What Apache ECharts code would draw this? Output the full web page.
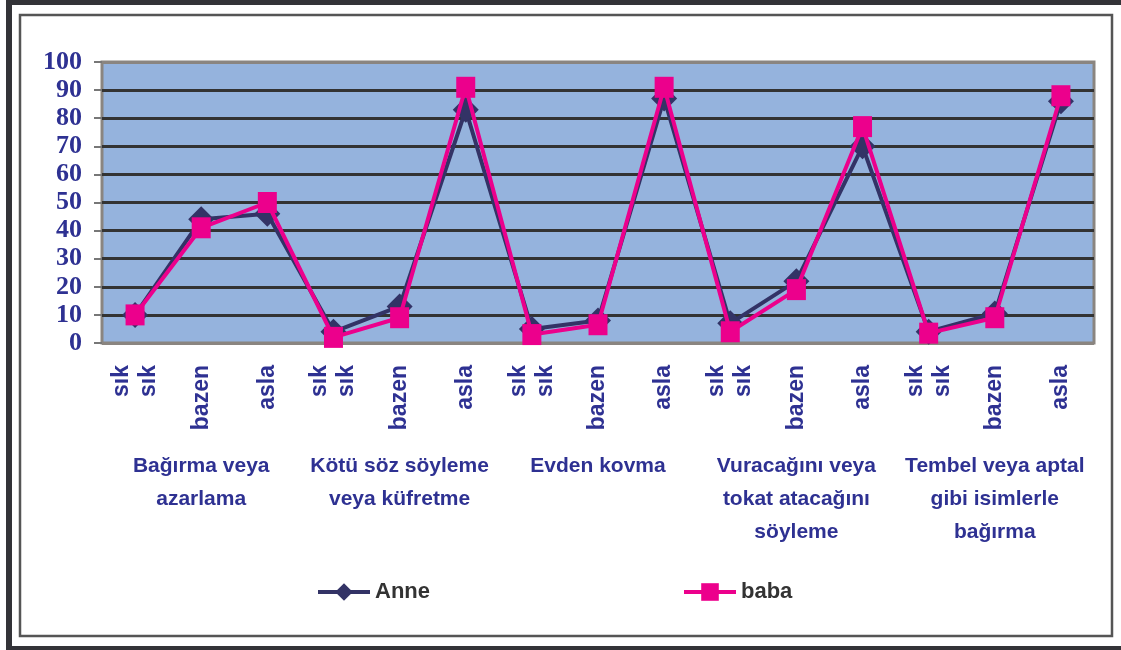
<!DOCTYPE html>
<html>
<head>
<meta charset="utf-8">
<script src="https://cdn.jsdelivr.net/npm/echarts@6/dist/echarts.min.js"></script>
<style>
html,body{margin:0;padding:0;background:#fff;}
#c{width:1121px;height:650px;}
</style>
</head>
<body>
<div id="c"></div>
<script>
const categories = ['sık\nsık','bazen','asla','sık\nsık','bazen','asla','sık\nsık','bazen','asla','sık\nsık','bazen','asla','sık\nsık','bazen','asla'];
const groups = ['Bağırma veya\nazarlama','Kötü söz söyleme\nveya küfretme','Evden kovma','Vuracağını veya\ntokat atacağını\nsöyleme','Tembel veya aptal\ngibi isimlerle\nbağırma'];
const anne = [10,44,46,4,13,83,5,8,87,7,22,70,4,10.5,86];
const baba = [10,41,50,2,9,91,3,6.5,91,4,19,77,3.5,9,88];
const yMin = 0, yMax = 100, yInterval = 10;

const navy = '#2E3192';
const legendText = {fontFamily:'Liberation Sans', fontWeight:'bold', fontSize:22, color:'#333'};
const chart = echarts.init(document.getElementById('c'));
chart.setOption({
  animation: false,
  backgroundColor: '#ffffff',
  graphic: [
    {type:'rect', shape:{x:6,y:0,width:1115,height:5}, style:{fill:'#333338'}, z:0},
    {type:'rect', shape:{x:6,y:0,width:6,height:650}, style:{fill:'#333338'}, z:0},
    {type:'rect', shape:{x:6,y:646,width:1115,height:4}, style:{fill:'#333338'}, z:0},
    {type:'rect', shape:{x:20,y:15,width:1092,height:621}, style:{fill:'none',stroke:'#555',lineWidth:2.5}, z:0}
  ],
  grid: {left:102, right:27, top:62, bottom:307, show:true, backgroundColor:'#95B3DD', borderColor:'#8a8580', borderWidth:3},
  legend: [
    {data:['Anne'], left:311, top:576, itemWidth:52, itemHeight:22, itemGap:0, lineStyle:{width:4}, textStyle:legendText},
    {data:['baba'], left:677, top:576, itemWidth:52, itemHeight:22, itemGap:0, lineStyle:{width:4}, textStyle:legendText}
  ],
  xAxis: [
    {type:'category', data:categories, boundaryGap:true,
     axisLine:{show:false}, axisTick:{show:false},
     axisLabel:{interval:0, rotate:90, margin:22, fontFamily:'Liberation Sans', fontWeight:'bold', fontSize:23, lineHeight:27, color:navy}},
    {type:'category', data:groups, position:'bottom', offset:100, boundaryGap:true,
     axisLine:{show:false}, axisTick:{show:false},
     axisLabel:{interval:0, margin:7, verticalAlign:'top', fontFamily:'Liberation Sans', fontWeight:'bold', fontSize:21, lineHeight:33, color:navy}}
  ],
  yAxis: {type:'value', min:yMin, max:yMax, interval:yInterval,
    axisLine:{show:false},
    axisTick:{show:true, length:8, lineStyle:{color:'#777', width:2}},
    axisLabel:{margin:20, fontFamily:'Liberation Serif', fontWeight:'bold', fontSize:26, color:navy},
    splitLine:{show:true, lineStyle:{width:3, color:['#8a8580','#333','#333','#333','#333','#333','#333','#333','#333','#333','#8a8580']}}
  },
  series: [
    {name:'Anne', type:'line', data:anne, symbol:'diamond', symbolSize:[26,26],
     lineStyle:{color:'#333366', width:4}, itemStyle:{color:'#333366'}, z:2},
    {name:'baba', type:'line', data:baba, symbol:'rect', symbolSize:[19,21],
     lineStyle:{color:'#EC008C', width:4}, itemStyle:{color:'#EC008C'}, z:3}
  ]
});
</script>
</body>
</html>
